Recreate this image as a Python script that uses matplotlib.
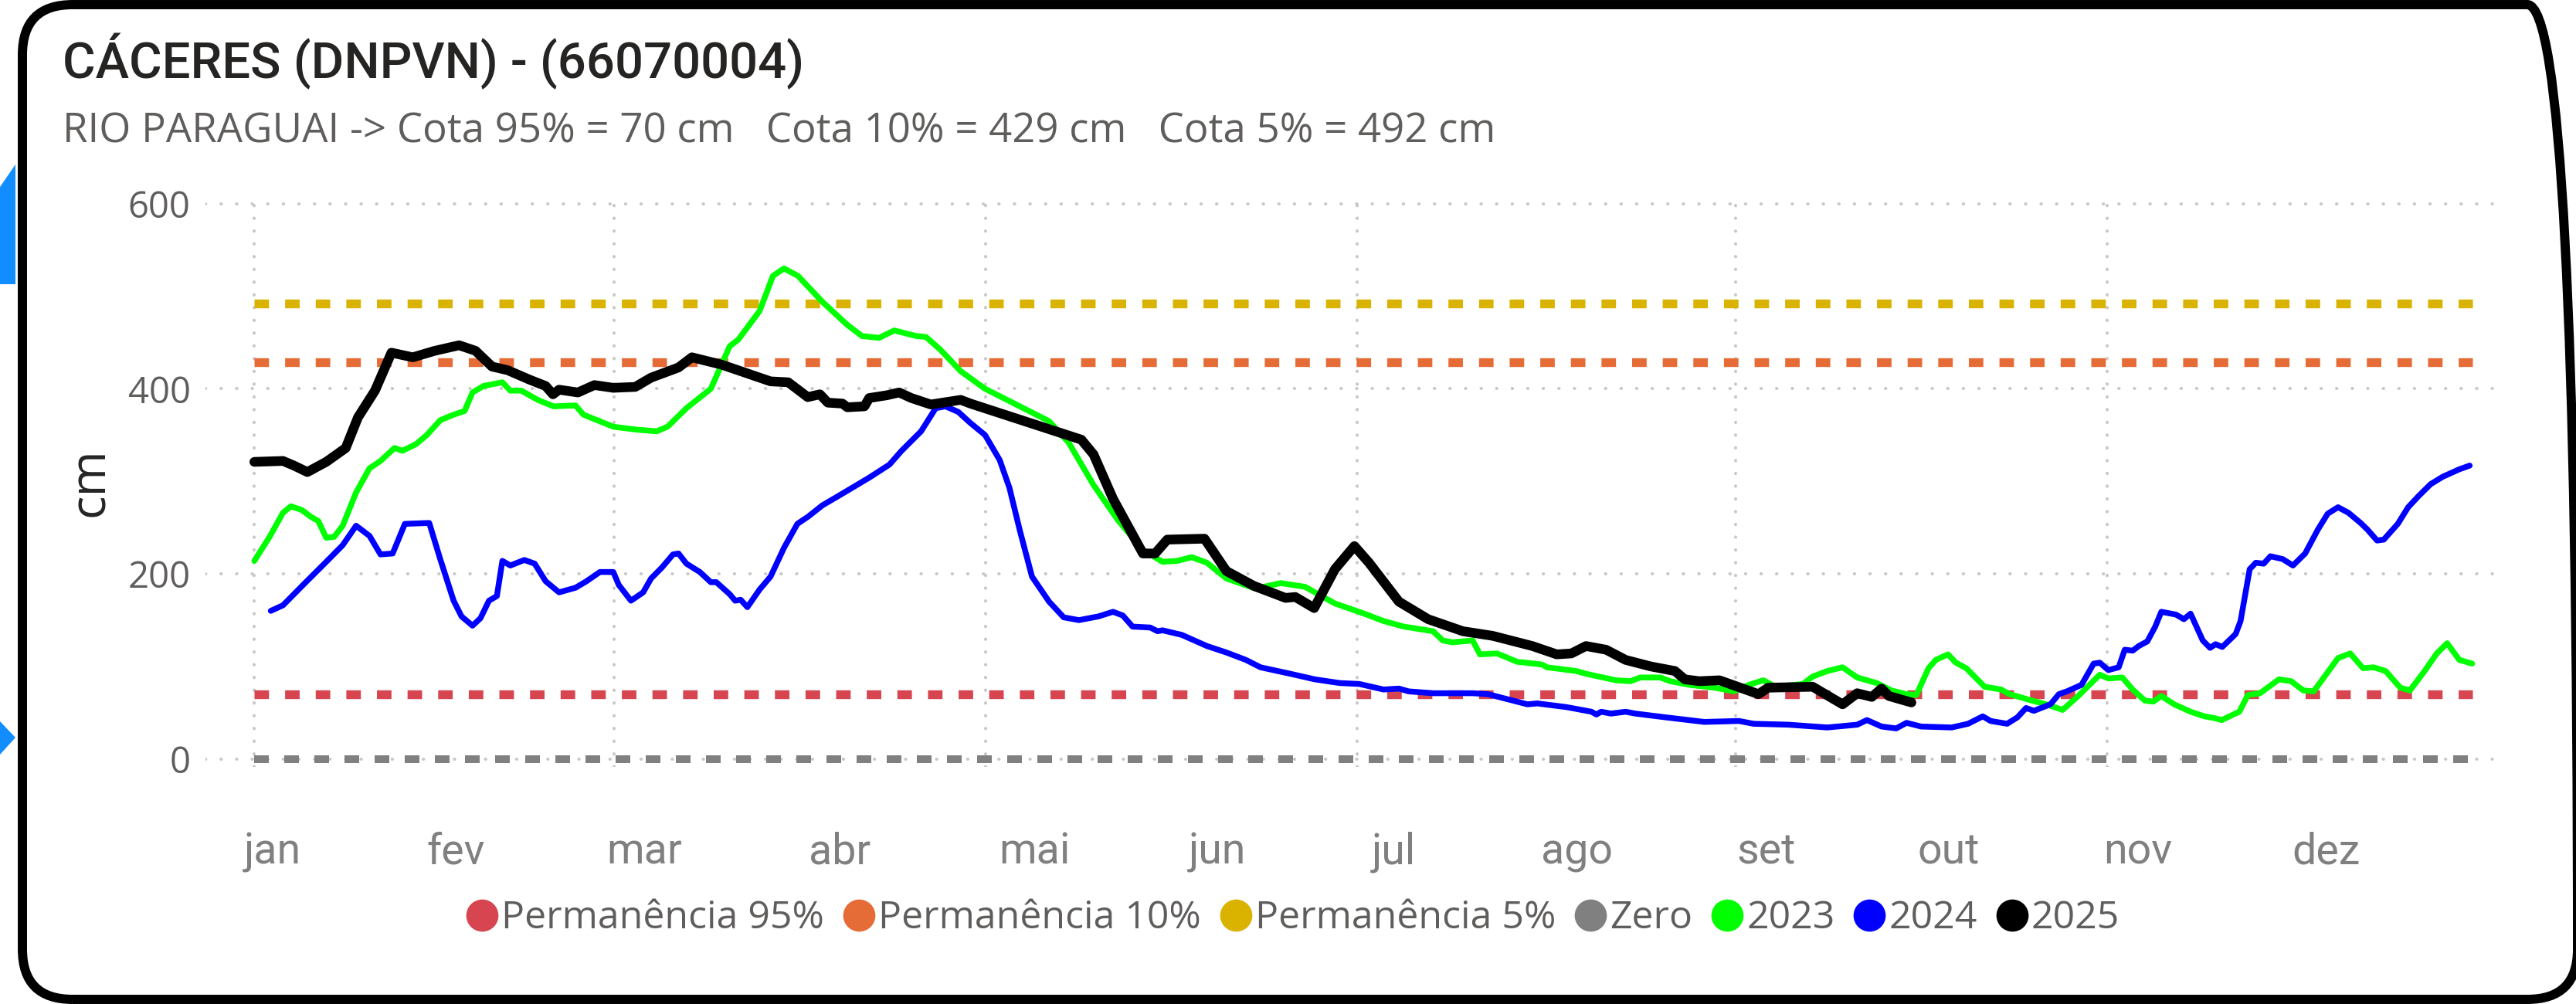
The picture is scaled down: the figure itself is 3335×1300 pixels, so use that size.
import matplotlib
matplotlib.use("Agg")
import matplotlib.pyplot as plt
from matplotlib.lines import Line2D
from matplotlib.patches import FancyBboxPatch, Polygon
from matplotlib.transforms import IdentityTransform

# ---- dados (dia do ano, cota em cm) ----
meses = ["jan", "fev", "mar", "abr", "mai", "jun", "jul", "ago", "set", "out", "nov", "dez"]
pos_rotulos = [3, 33, 64, 96, 128, 158, 187, 217, 248, 278, 309, 340]
meses_grade = [0, 59, 120, 181, 243, 304]

cota_95 = 70
cota_10 = 429
cota_5 = 492
zero = 0

serie_2023 = [(0, 214), (2.5, 240), (4.7, 266), (6, 273), (7.8, 269), (9.2, 262), (10.5, 257), (11.8, 239),
              (13.1, 240), (14.5, 252), (16.7, 288), (18.9, 314), (20.7, 322), (23, 336), (24.3, 333),
              (26.5, 340), (28.3, 350), (30.5, 366), (32.7, 372), (34.5, 376), (35.8, 396), (37.6, 403),
              (40.7, 407), (42, 398), (43.8, 398), (46.5, 388), (49.1, 381), (52.7, 382), (54, 372),
              (58.9, 359), (62.5, 356), (66, 354), (67.8, 359), (70.9, 379), (74.9, 400), (78, 446),
              (79.4, 453), (82.9, 484), (85.1, 522), (86.9, 530), (89.2, 522), (93.2, 494), (97.3, 469),
              (99.7, 457), (102.5, 455), (105, 463), (108.6, 457), (110.2, 456), (112.6, 442), (115.9, 419),
              (119.9, 400), (125.6, 381), (130.4, 365), (133.6, 342), (137.7, 296), (141.7, 258),
              (145.8, 226), (149, 213), (151.4, 214), (153.8, 218), (156.3, 212), (159.5, 195), (164.3, 184),
              (168.4, 190), (172.4, 186), (177.3, 168), (182.1, 157), (185.3, 149), (188.6, 143),
              (193.4, 138), (195, 128), (196.6, 126), (199.9, 128), (201.1, 113), (203.9, 114), (207.2, 105),
              (211.3, 102), (212.1, 99), (216.9, 95), (218.5, 92), (223.4, 85), (225.8, 84), (227.4, 88),
              (230.7, 88), (232.3, 84), (235.5, 80), (239.6, 77), (242.8, 73), (245.2, 80), (247.6, 85),
              (249.6, 78), (254.1, 81), (255.7, 89), (258.1, 95), (260.6, 99), (263, 88), (266.2, 82),
              (268.6, 74), (271.1, 70), (272.7, 69), (274.7, 98), (275.9, 107), (277.9, 113), (279.2, 104),
              (280.9, 98), (283.9, 78), (286.6, 75), (288, 70), (291.7, 63), (294, 59), (296.7, 53),
              (299.1, 67), (302.8, 91), (304.2, 87), (306.5, 88), (308.2, 75), (310.2, 63), (311.6, 62),
              (312.9, 68), (315, 59), (317.7, 51), (320, 46), (321.7, 44), (322.8, 42), (325.7, 51),
              (327.1, 69), (329.1, 71), (332.2, 86), (334.2, 84), (336.2, 74), (337.9, 73), (339.9, 91),
              (341.9, 109), (343.9, 114), (346, 98), (347.7, 99), (349.7, 95), (352.1, 77), (353.7, 74),
              (356.1, 95), (358.1, 114), (359.8, 125), (361.8, 107), (363.9, 103)]

serie_2024 = [(2.7, 160), (4.7, 166), (8.3, 190), (11.8, 213), (14.5, 231), (16.7, 252), (18.9, 241),
              (20.7, 221), (22.7, 222), (24.7, 254), (28.7, 255), (30.5, 216), (32.7, 171), (34, 154),
              (35.8, 144), (37.1, 152), (38.5, 171), (39.8, 176), (40.7, 214), (42, 209), (44.3, 215),
              (46, 211), (47.8, 192), (50, 180), (52.7, 185), (54.5, 192), (56.7, 202), (58.9, 202),
              (59.8, 188), (61.8, 171), (63.8, 180), (65.1, 195), (66.9, 207), (68.7, 221), (69.6, 222),
              (70.9, 211), (73.1, 202), (74.9, 191), (75.8, 191), (78, 178), (78.9, 171), (79.8, 172),
              (80.9, 164), (82.9, 183), (84.7, 197), (86.9, 228), (89.1, 254), (90.9, 262), (93.2, 274),
              (95.8, 284), (98.1, 293), (100.9, 304), (104.2, 318), (106.2, 333), (109.4, 354), (111.8, 379),
              (113.4, 381), (115.5, 375), (117.5, 363), (119.9, 350), (122.3, 323), (123.9, 293),
              (125.6, 247), (127.6, 197), (130.4, 170), (132.8, 153), (135.3, 150), (138.5, 154),
              (140.9, 159), (142.5, 155), (144.1, 143), (147, 142), (148.2, 138), (149, 139), (152.2, 134),
              (156.3, 122), (159.5, 115), (162.7, 107), (165.1, 99), (170, 92), (174, 86), (178.1, 82),
              (181.3, 81), (185.3, 75), (187.8, 76), (189.4, 73), (193.4, 71), (199.9, 71), (202.4, 70),
              (208.9, 59), (210.5, 60), (215.3, 56), (219.4, 51), (220.2, 48), (221, 51), (222.6, 49),
              (225, 51), (226.6, 49), (231.5, 45), (237.9, 40), (243.6, 41), (246, 38), (251.7, 37),
              (258.1, 34), (263, 37), (264.6, 42), (267, 35), (269.4, 33), (271.1, 39), (273.5, 35),
              (278.5, 34), (281.2, 38), (283.6, 46), (284.9, 41), (287.6, 38), (289.3, 45), (290.7, 55),
              (292, 52), (294.7, 59), (296.1, 70), (297.4, 73), (299.8, 80), (301.8, 103), (302.8, 104),
              (304.2, 96), (305.9, 99), (306.9, 118), (308.2, 117), (309.2, 122), (310.6, 127),
              (311.9, 143), (312.9, 159), (315.3, 156), (316.6, 151), (317.7, 157), (319.7, 128),
              (320.9, 120), (321.8, 124), (322.9, 121), (325.1, 135), (325.9, 149), (327.4, 205),
              (328.4, 212), (329.7, 211), (330.8, 219), (332.8, 216), (334.5, 209), (336.5, 222),
              (338.6, 248), (340.2, 265), (341.9, 272), (343.6, 266), (345.6, 255), (346.7, 248),
              (348.3, 236), (349.4, 237), (351.7, 254), (353.4, 272), (355.1, 284), (357.1, 297),
              (359.1, 305), (361.8, 313), (363.5, 317)]

serie_2025 = [(0, 321), (4.7, 322), (6.5, 317), (8.7, 310), (11.8, 321), (15, 336), (17, 369), (19.8, 398),
              (22.5, 439), (26, 434), (29.6, 441), (33.6, 447), (36.3, 441), (39, 424), (41.6, 420),
              (45.1, 410), (47.8, 403), (49, 394), (50, 399), (53.1, 396), (55.8, 404), (58.9, 401),
              (62.5, 402), (65.1, 412), (69.6, 423), (71.8, 434), (76.7, 426), (80.7, 417), (84.7, 408),
              (87.6, 407), (90.8, 391), (92.8, 394), (94.1, 385), (96.5, 384), (97.3, 380), (100.1, 381),
              (100.9, 390), (103.8, 393), (105.8, 396), (107.8, 390), (111, 383), (115.9, 388),
              (117.5, 384), (135.7, 345), (137.7, 329), (140.9, 281), (145.8, 222), (147.8, 222),
              (149.8, 237), (155.9, 238), (159.5, 203), (164, 187), (169.2, 174), (170.8, 175),
              (173.9, 163), (177.3, 205), (180.5, 230), (182.9, 212), (187.8, 170), (192.6, 151),
              (198.3, 138), (203.2, 133), (209.7, 122), (213.7, 113), (216.1, 114), (218.5, 122),
              (221.8, 118), (225, 107), (229.1, 100), (233.1, 95), (234.7, 86), (237.1, 84), (240.4, 85),
              (246.8, 70), (248.4, 77), (255.7, 78), (260.6, 59), (263, 71), (265.4, 67), (267, 76),
              (268.2, 68), (271.9, 61)]

fig = plt.figure(figsize=(16.675, 6.5), dpi=200)
fig.patch.set_facecolor("white")
ax = fig.add_axes([0.0798, 0.2358, 0.8884, 0.5687])

ax.set_xlim(-8, 367.5)
ax.set_ylim(-9, 608)

# grade pontilhada
ax.set_yticks([0, 200, 400, 600])
ax.set_xticks(meses_grade, minor=True)
ax.set_xticks(pos_rotulos)
ax.set_xticklabels(meses)
ax.grid(axis="y", which="major", color="#C8C8C8", linestyle=(0, (0.1, 4.9)), linewidth=1.45,
        dash_capstyle="round")
ax.grid(axis="x", which="minor", color="#C8C8C8", linestyle=(0, (0.1, 4.0)), linewidth=1.45,
        dash_capstyle="round")
ax.set_axisbelow(True)
for s in ax.spines.values():
    s.set_visible(False)
ax.tick_params(axis="both", which="both", length=0)
ax.tick_params(axis="y", labelsize=17, labelcolor="#605E5C", pad=7)
ax.tick_params(axis="x", labelsize=20, labelcolor="#808080", pad=30)
for lb in ax.get_yticklabels():
    lb.set_fontfamily("Open Sans")
for lb in ax.get_xticklabels():
    lb.set_fontfamily("Roboto")

# linhas de referencia
ref_x = [0, 364]
ax.plot(ref_x, [cota_95] * 2, color="#D64550", lw=4.1, linestyle=(0, (1.65, 1.83)), dash_capstyle="butt")
ax.plot(ref_x, [cota_10] * 2, color="#E66C37", lw=4.1, linestyle=(0, (1.65, 1.83)), dash_capstyle="butt")
ax.plot(ref_x, [cota_5] * 2, color="#D9B300", lw=4.1, linestyle=(0, (1.65, 1.83)), dash_capstyle="butt")
ax.plot(ref_x, [zero] * 2, color="#808080", lw=3.6, linestyle=(0, (1.9, 2.0)), dash_capstyle="butt")

# series anuais
for serie, cor, lw in [(serie_2023, "#00FF00", 2.7), (serie_2024, "#0000FF", 2.7), (serie_2025, "#000000", 4.5)]:
    dx = [p[0] for p in serie]
    dy = [p[1] for p in serie]
    ax.plot(dx, dy, color=cor, lw=lw, solid_capstyle="round", solid_joinstyle="round")

ax.text(-0.0503, 0.5, "cm", transform=ax.transAxes, rotation=90, ha="center", va="center",
        fontsize=23, color="#252423", family="Open Sans")

# titulos
fig.text(0.0243, 0.939, "CÁCERES (DNPVN) - (66070004)", fontsize=23.5, fontweight="medium",
         color="#252423", family="Roboto", va="center")
fig.text(0.0243, 0.869, "RIO PARAGUAI -> Cota 95% = 70 cm   Cota 10% = 429 cm   Cota 5% = 492 cm",
         fontsize=19, color="#605E5C", family="Open Sans", va="center")

# legenda
nomes = ["Permanência 95%", "Permanência 10%", "Permanência 5%", "Zero", "2023", "2024", "2025"]
cores = ["#D64550", "#E66C37", "#D9B300", "#808080", "#00FF00", "#0000FF", "#000000"]
handles = [Line2D([], [], marker="o", linestyle="none", markersize=14, markerfacecolor=c,
                  markeredgecolor=c) for c in cores]
leg = fig.legend(handles, nomes, loc="center", bbox_to_anchor=(0.502, 0.085), ncol=7, frameon=False,
                 handlelength=0.8, handletextpad=0.1, columnspacing=0.5,
                 prop={"family": "Open Sans", "size": 18})
for t in leg.get_texts():
    t.set_color("#605E5C")

# moldura arredondada e formas azuis laterais
frame = FancyBboxPatch((29, 6), 3308, 1288, boxstyle="round,pad=0,rounding_size=65",
                       transform=IdentityTransform(), facecolor="none", edgecolor="black", linewidth=4.3)
fig.patches.append(frame)
fig.patches.append(Polygon([(0, 1300 - 242), (20, 1300 - 213), (20, 1300 - 368), (0, 1300 - 368)],
                           closed=True, transform=IdentityTransform(), facecolor="#118DFF", edgecolor="none"))
fig.patches.append(Polygon([(0, 1300 - 934), (20, 1300 - 955), (0, 1300 - 977)],
                           closed=True, transform=IdentityTransform(), facecolor="#118DFF", edgecolor="none"))

fig.savefig("out.png", dpi=200)
